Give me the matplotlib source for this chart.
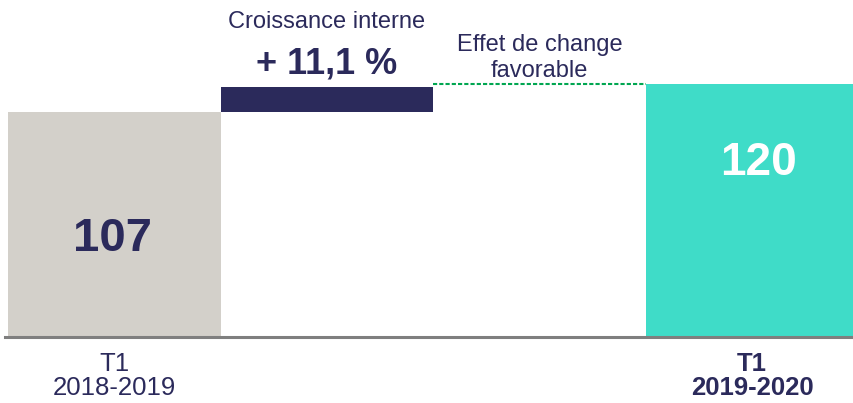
import matplotlib
matplotlib.use("Agg")
import matplotlib.pyplot as plt

plt.rcParams['font.family'] = ['Liberation Sans', 'DejaVu Sans']

# données (M€)
start_val = 107
growth_top = 118.9
end_val = 120
positions = [0, 1, 2, 3]
bottom_labels = ["T1\n2018-2019", "T1\n2019-2020"]
growth_title = "Croissance interne"
growth_pct = "+ 11,1 %"
fx_label = "Effet de change\nfavorable"

NAVY = "#2B2A5B"
GREY = "#D3D0CA"
TEAL = "#3FDCC8"
GREEN = "#00A651"

W, H = 854, 403
fig = plt.figure(figsize=(W / 100, H / 100), dpi=100)
ax = fig.add_axes([8 / W, (H - 338) / H, 846 / W, 338 / H])

ax.bar(positions[0], start_val, width=1.0, color=GREY)
ax.bar(positions[1], growth_top - start_val, bottom=start_val, width=1.0, color=NAVY)
ax.hlines(end_val, positions[2] - 0.5, positions[2] + 0.5, color=GREEN,
          lw=1.5, linestyles=(0, (2, 1)))
ax.bar(positions[3], end_val, width=1.0, color=TEAL)

ax.set_xlim(-0.5, 3.48)
ax.set_ylim(0, 160)
ax.axis("off")

# ligne de base
fig.add_artist(plt.Line2D([5 / W, 1], [(H - 337) / H] * 2, color="#7F7F7F",
                          lw=2.2, transform=fig.transFigure))

ax.text(positions[0] - 0.01, 47, str(start_val), ha="center", va="center",
        fontsize=34, fontweight="bold", color=NAVY)
ax.text(positions[3] + 0.03, 83, str(end_val), ha="center", va="center",
        fontsize=33, fontweight="bold", color="white")

ax.text(positions[1], 149.5, growth_title, ha="center", va="center",
        fontsize=17, color=NAVY)
ax.text(positions[1], 129.5, growth_pct, ha="center", va="center",
        fontsize=26, fontweight="bold", color=NAVY)
ax.text(positions[2], 132.5, fx_label, ha="center", va="center",
        fontsize=17, color=NAVY, linespacing=1.2)

tr = ax.get_xaxis_transform()
ax.text(positions[0], -14 / 338, bottom_labels[0], ha="center", va="top",
        fontsize=18.5, color=NAVY, linespacing=1.0, transform=tr)
ax.text(positions[3], -14 / 338, bottom_labels[1], ha="center", va="top",
        fontsize=18.5, fontweight="bold", color=NAVY, linespacing=1.0, transform=tr)

fig.savefig("out.png", dpi=100)
